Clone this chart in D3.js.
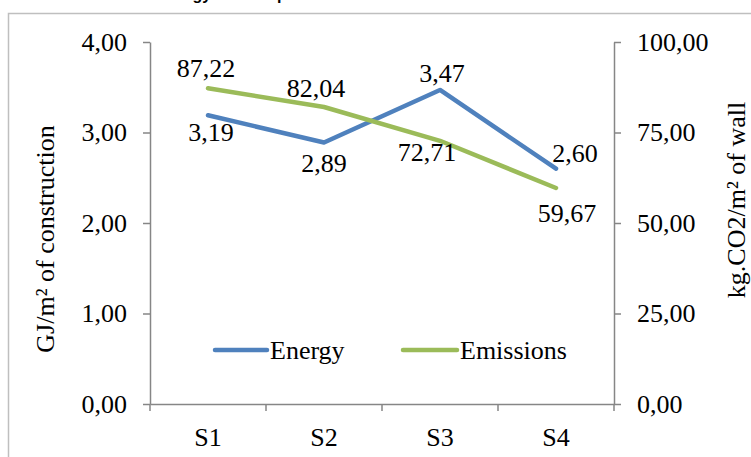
<!DOCTYPE html>
<html>
<head>
<meta charset="utf-8">
<script src="https://cdn.jsdelivr.net/npm/d3@7"></script>
<style>
  body { margin: 0; background: #fff; }
  svg { display: block; }
  .serif { font-family: "Liberation Serif", "Times New Roman", serif; fill: #000; }
</style>
</head>
<body>
<svg width="751" height="457"></svg>
<script>
const categories = ["S1", "S2", "S3", "S4"];
const energy = [3.19, 2.89, 3.47, 2.60];
const emissions = [87.22, 82.04, 72.71, 59.67];
const leftTicks = [0, 1, 2, 3, 4];
const rightTicks = [0, 25, 50, 75, 100];
const seriesNames = ["Energy", "Emissions"];

// where each data label sits relative to its point (dx, dy)
const energyLabelOffset = [[3, 17], [0, 20], [2, -17], [19, -16]];
const emissionsLabelOffset = [[-2, -20], [-8, -19], [-13, 11], [11, 25]];

const colors = {Energy: "#4F81BD", Emissions: "#9BBB59"};
const axisColor = "#868686";
const fontSize = "26px";

const locale = d3.formatLocale({decimal: ",", thousands: ".", grouping: [3], currency: ["", ""]});
const fmt = locale.format(".2f");

const svg = d3.select("svg");
const margin = {top: 42, right: 137, bottom: 53, left: 150};
const W = 751, H = 457;

// chart border
svg.append("path")
    .attr("d", "M8.5,457 L8.5,13.5 L751,13.5")
    .attr("fill", "none")
    .attr("stroke", "#BFBFBF")
    .attr("stroke-width", 1.5);

// title, mostly cut off at the top of the picture
svg.append("text")
    .attr("x", 77)
    .attr("y", 0)
    .attr("font-family", "Liberation Sans, Arial, sans-serif")
    .attr("font-weight", "bold")
    .attr("font-size", "16px")
    .text("Embodied energy consumption and emissions");

let x = d3.scaleBand()
    .domain(categories)
    .range([margin.left, W - margin.right]);

let yLeft = d3.scaleLinear()
    .domain([0, 4])
    .range([H - margin.bottom, margin.top]);

let yRight = d3.scaleLinear()
    .domain([0, 100])
    .range([H - margin.bottom, margin.top]);

function styleAxis(g){
    g.select(".domain").attr("stroke", axisColor).attr("stroke-width", 1.5);
    g.selectAll(".tick line").attr("stroke", axisColor).attr("stroke-width", 1.5);
    g.selectAll("text")
        .attr("class", "serif")
        .attr("font-size", fontSize)
        .attr("fill", "#000");
}

svg.append("g")
    .attr("transform", "translate(" + margin.left + ",0)")
    .call(d3.axisLeft(yLeft).tickValues(leftTicks).tickFormat(fmt).tickSize(7).tickSizeOuter(0).tickPadding(16))
    .call(styleAxis);

svg.append("g")
    .attr("transform", "translate(" + (W - margin.right) + ",0)")
    .call(d3.axisRight(yRight).tickValues(rightTicks).tickFormat(fmt).tickSize(7).tickSizeOuter(0).tickPadding(16))
    .call(styleAxis);

let xAxis = svg.append("g")
    .attr("transform", "translate(0," + (H - margin.bottom) + ")")
    .call(d3.axisBottom(x).tickSize(0).tickSizeOuter(0).tickPadding(24))
    .call(styleAxis);

// category boundary ticks
let bounds = categories.map(c => x(c)).concat([x(categories[categories.length - 1]) + x.bandwidth()]);
xAxis.selectAll(".bound")
    .data(bounds)
    .enter()
    .append("line")
    .attr("x1", d => d).attr("x2", d => d)
    .attr("y1", 0).attr("y2", 7)
    .attr("stroke", axisColor)
    .attr("stroke-width", 1.5);

// axis titles
svg.append("text")
    .attr("class", "serif")
    .attr("font-size", fontSize)
    .attr("text-anchor", "middle")
    .attr("transform", "translate(54,239) rotate(-90)")
    .text("GJ/m² of construction");

svg.append("text")
    .attr("class", "serif")
    .attr("font-size", fontSize)
    .attr("text-anchor", "middle")
    .attr("transform", "translate(745,200) rotate(-90)")
    .text("kg.CO2/m² of wall");

function cx(i){ return x(categories[i]) + x.bandwidth() / 2; }

let series = [
    {name: "Energy", values: energy, y: yLeft, offsets: energyLabelOffset},
    {name: "Emissions", values: emissions, y: yRight, offsets: emissionsLabelOffset}
];

let line = d3.line();

series.forEach(function(s){
    svg.append("path")
        .attr("d", line(s.values.map((v, i) => [cx(i), s.y(v)])))
        .attr("fill", "none")
        .attr("stroke", colors[s.name])
        .attr("stroke-width", 4.5)
        .attr("stroke-linecap", "round")
        .attr("stroke-linejoin", "round");
});

series.forEach(function(s){
    svg.selectAll(null)
        .data(s.values)
        .enter()
        .append("text")
        .attr("class", "serif")
        .attr("font-size", fontSize)
        .attr("text-anchor", "middle")
        .attr("dy", "0.35em")
        .attr("x", (d, i) => cx(i) + s.offsets[i][0])
        .attr("y", (d, i) => s.y(d) + s.offsets[i][1])
        .text(d => fmt(d));
});

// legend
let legendY = 350;
let legendItems = [{name: seriesNames[0], x1: 215, x2: 267}, {name: seriesNames[1], x1: 403, x2: 457}];
let lg = svg.append("g");
lg.selectAll("line")
    .data(legendItems)
    .enter()
    .append("line")
    .attr("x1", d => d.x1).attr("x2", d => d.x2)
    .attr("y1", legendY).attr("y2", legendY)
    .attr("stroke", d => colors[d.name])
    .attr("stroke-width", 4.5)
    .attr("stroke-linecap", "round");
lg.selectAll("text")
    .data(legendItems)
    .enter()
    .append("text")
    .attr("class", "serif")
    .attr("font-size", fontSize)
    .attr("x", d => d.x2 + 3)
    .attr("y", legendY)
    .attr("dy", "0.35em")
    .text(d => d.name);
</script>
</body>
</html>
